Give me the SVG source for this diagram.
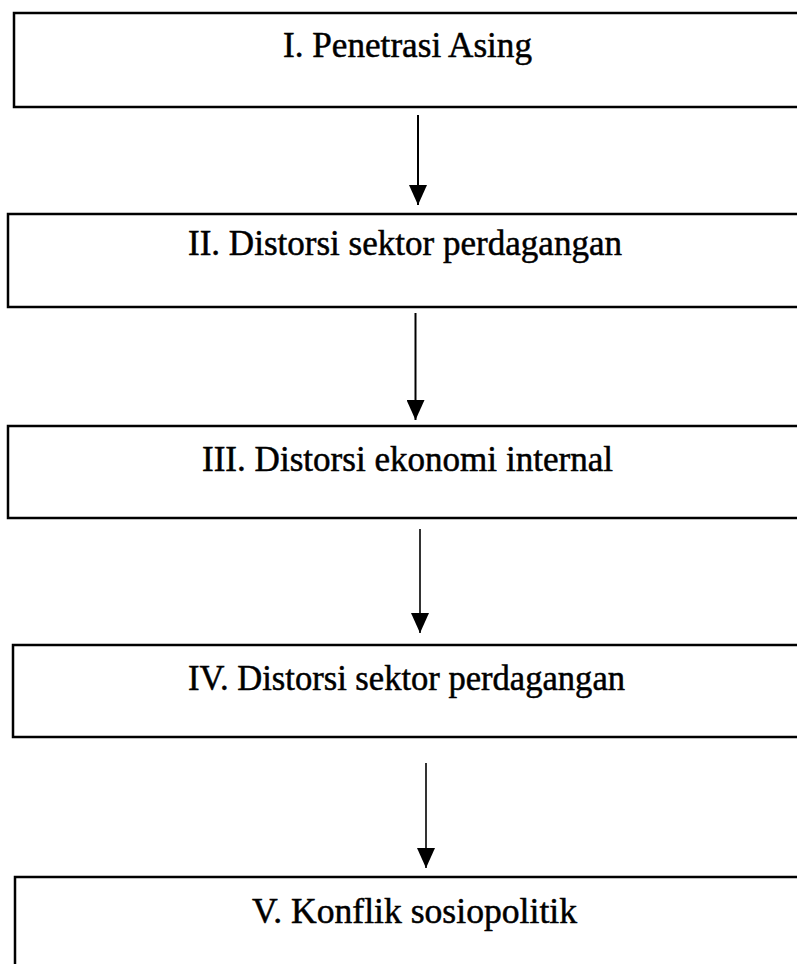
<svg xmlns="http://www.w3.org/2000/svg" width="797" height="964" viewBox="0 0 797 964">
  <style>
    .box { fill: #ffffff; stroke: #000000; stroke-width: 2.5; }
    .label { font-family: "Liberation Serif", "Times New Roman", serif; font-size: 35px; fill: #000000; stroke: #000000; stroke-width: 0.5; }
    .conn { stroke: #000000; stroke-width: 2; fill: none; }
  </style>
  <defs>
    <marker id="arrow" markerUnits="userSpaceOnUse" viewBox="0 0 20 18" markerWidth="20" markerHeight="18" refX="20" refY="9" orient="auto">
      <path d="M0,0 L20,9 L0,18 Z" fill="#000000"/>
    </marker>
  </defs>
  <rect x="0" y="0" width="797" height="964" fill="#ffffff"/>
  <g id="node-1">
    <rect class="box" x="14" y="13" width="800" height="94"/>
    <text class="label" x="283" y="57" textLength="249" lengthAdjust="spacingAndGlyphs">I. Penetrasi Asing</text>
  </g>
  <g id="node-2">
    <rect class="box" x="8" y="214" width="800" height="93"/>
    <text class="label" x="188" y="255" textLength="434" lengthAdjust="spacingAndGlyphs">II. Distorsi sektor perdagangan</text>
  </g>
  <g id="node-3">
    <rect class="box" x="8" y="426" width="800" height="92"/>
    <text class="label" x="202" y="471" textLength="411" lengthAdjust="spacingAndGlyphs">III. Distorsi ekonomi internal</text>
  </g>
  <g id="node-4">
    <rect class="box" x="13" y="645" width="800" height="92"/>
    <text class="label" x="188" y="690" textLength="437" lengthAdjust="spacingAndGlyphs">IV. Distorsi sektor perdagangan</text>
  </g>
  <g id="node-5">
    <rect class="box" x="15" y="877" width="800" height="120"/>
    <text class="label" x="252" y="923" textLength="325" lengthAdjust="spacingAndGlyphs">V. Konflik sosiopolitik</text>
  </g>
  <g id="connectors">
    <line class="conn" x1="418" y1="115" x2="418" y2="205" marker-end="url(#arrow)"/>
    <line class="conn" x1="415.5" y1="313" x2="415.5" y2="420" marker-end="url(#arrow)"/>
    <line class="conn" x1="420" y1="529" x2="420" y2="633" marker-end="url(#arrow)" style="stroke-width:1.6"/>
    <line class="conn" x1="426" y1="763" x2="426" y2="868" marker-end="url(#arrow)" style="stroke-width:1.6"/>
  </g>
</svg>
